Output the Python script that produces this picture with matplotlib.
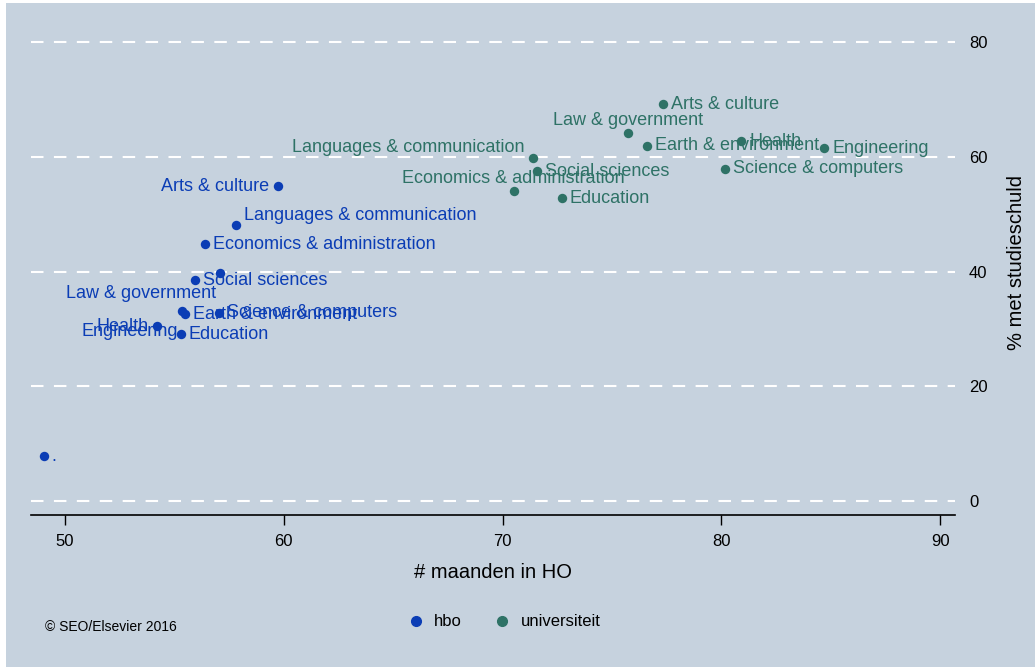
import matplotlib
matplotlib.use("Agg")
import matplotlib.pyplot as plt
from matplotlib.lines import Line2D
from matplotlib.patches import Rectangle

plt.rcParams['font.family'] = ['Liberation Sans', 'DejaVu Sans']

# hbo (blue)
hbo_labels = ['.', 'Arts & culture', 'Languages & communication',
              'Economics & administration', 'Social sciences', 'Law & government',
              'Engineering', 'Earth & environment', 'Science & computers',
              'Health', 'Education']
hbo_maanden = [49.03, 59.72, 57.81, 56.38, 55.93, 57.10, 55.33, 55.47, 57.02, 54.19, 55.29]
hbo_schuld = [7.8, 54.9, 48.1, 44.8, 38.5, 39.7, 33.1, 32.6, 32.8, 30.5, 29.1]

# universiteit (green)
uni_labels = ['Arts & culture', 'Law & government', 'Earth & environment',
              'Languages & communication', 'Social sciences',
              'Economics & administration', 'Education', 'Health',
              'Engineering', 'Science & computers']
uni_maanden = [77.32, 75.72, 76.59, 71.38, 71.56, 70.51, 72.70, 80.92, 84.71, 80.19]
uni_schuld = [69.2, 64.1, 61.9, 59.8, 57.5, 54.0, 52.8, 62.7, 61.5, 57.9]

x_ticks = [50, 60, 70, 80, 90]
y_ticks = [0, 20, 40, 60, 80]

# label clock positions (Stata style)
hbo_pos = [3, 9, 2, 3, 3, 7, 7, 3, 3, 9, 3]
uni_pos = [3, 12, 3, 11, 3, 12, 3, 3, 3, 3]

# clock position -> (dx px, dy px, ha)
offsets = {
    3: (8, 0, 'left'),
    9: (-8, 0, 'right'),
    12: (0, 13, 'center'),
    11: (-8, 10, 'right'),
    2: (8, 10, 'left'),
    7: (-4, -20, 'right'),
}

bg = '#C6D2DE'
blue = '#0B3DB5'
green = '#2E7266'

fig = plt.figure(figsize=(10.35, 6.67), dpi=100, facecolor=bg)
# thin white border left/top like the original export
fig.patches.append(Rectangle((0, 0), 6 / 1035, 1, transform=fig.transFigure,
                             facecolor='white', edgecolor='none', zorder=0))
fig.patches.append(Rectangle((0, 1 - 3 / 667), 1, 3 / 667, transform=fig.transFigure,
                             facecolor='white', edgecolor='none', zorder=0))

ax = fig.add_axes([31 / 1035, 1 - 515 / 667, (955 - 31) / 1035, (515 - 10) / 667])
ax.set_facecolor(bg)

ax.set_xlim(48.45, 90.68)
ax.set_ylim(-2.44, 85.6)

for s in ['top', 'right', 'left']:
    ax.spines[s].set_visible(False)
ax.spines['bottom'].set_color('black')
ax.spines['bottom'].set_linewidth(1.2)

ax.set_xticks(x_ticks)
ax.set_yticks(y_ticks)
ax.tick_params(axis='x', length=7, width=1, color='black', labelsize=12, pad=7)
ax.yaxis.tick_right()
ax.yaxis.set_label_position('right')
ax.tick_params(axis='y', length=0, labelsize=12, pad=10)

ax.grid(axis='y', color='white', linestyle=(0, (6, 5)), linewidth=1.5)
ax.set_axisbelow(True)

ax.scatter(hbo_maanden, hbo_schuld, s=46, color=blue, zorder=3, linewidths=0)
ax.scatter(uni_maanden, uni_schuld, s=46, color=green, zorder=3, linewidths=0)

for xs, ys, labs, poss, col in [(hbo_maanden, hbo_schuld, hbo_labels, hbo_pos, blue),
                                (uni_maanden, uni_schuld, uni_labels, uni_pos, green)]:
    for x, y, lab, p in zip(xs, ys, labs, poss):
        dx, dy, ha = offsets[p]
        ax.annotate(lab, (x, y), xytext=(dx, dy), textcoords='offset pixels',
                    ha=ha, va='center', color=col, fontsize=13, zorder=4)

ax.set_xlabel('# maanden in HO', fontsize=14.5, labelpad=10)
ax.set_ylabel('% met studieschuld', fontsize=14.5, labelpad=14, rotation=90)

handles = [Line2D([], [], linestyle='none', marker='o', markersize=7,
                  markerfacecolor=blue, markeredgecolor=blue),
           Line2D([], [], linestyle='none', marker='o', markersize=7,
                  markerfacecolor=green, markeredgecolor=green)]
fig.legend(handles, ['hbo', 'universiteit'], loc='center',
           bbox_to_anchor=(0.487, 1 - 622 / 667), ncol=2, frameon=False,
           fontsize=12, handlelength=1.0, handletextpad=0.6, columnspacing=1.9)

fig.text(45 / 1035, 1 - 627 / 667, '© SEO/Elsevier 2016', fontsize=10,
         ha='left', va='center', color='black')

fig.savefig('out.png', dpi=100, facecolor=bg)
